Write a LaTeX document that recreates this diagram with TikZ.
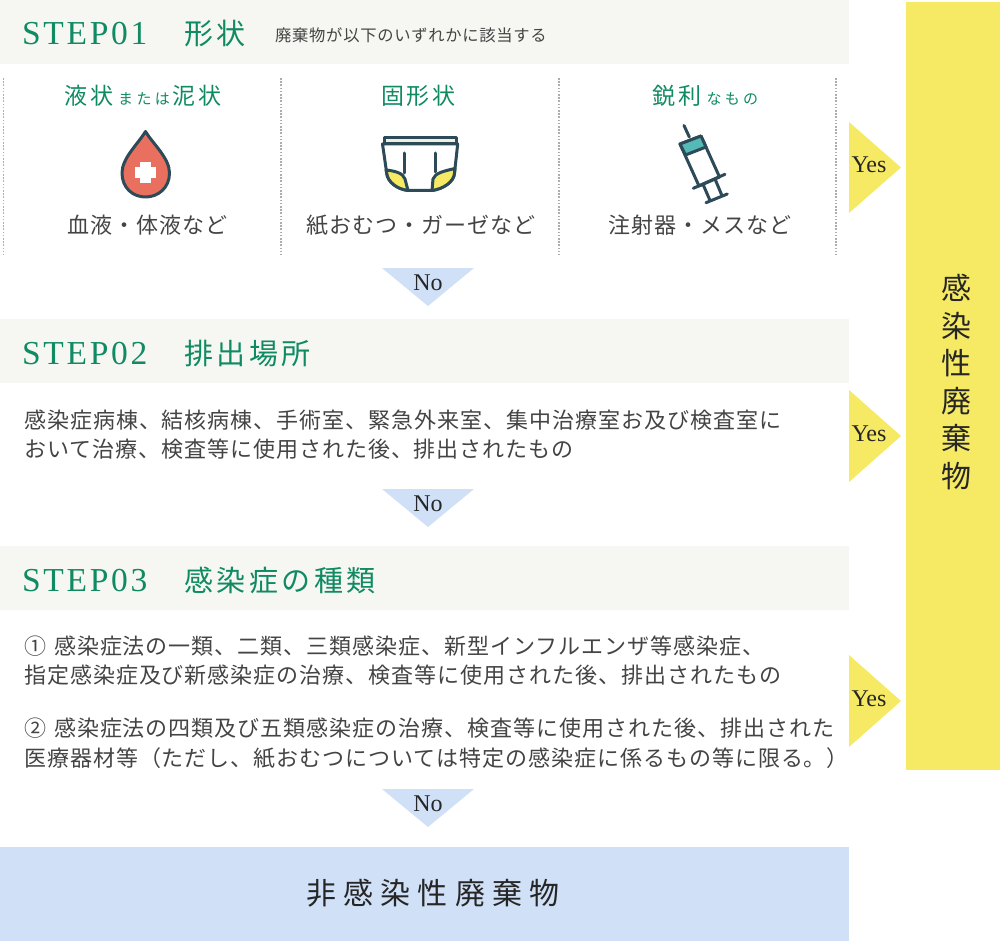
\documentclass[tikz,border=0pt]{standalone}
\usepackage{fontspec}
\setmainfont{Liberation Serif}
\newfontfamily\jpa[LetterSpace=4.4]{Noto Sans CJK JP}
\newfontfamily\jph[LetterSpace=12]{Noto Sans CJK JP}
\newfontfamily\jpk[LetterSpace=22]{Noto Sans CJK JP}
\newfontfamily\latinh[LetterSpace=8]{Liberation Serif}
\definecolor{stepbg}{HTML}{F6F7F3}
\definecolor{bluebg}{HTML}{CFE0F7}
\definecolor{yel}{HTML}{F6EA64}
\definecolor{grn}{HTML}{0F8A62}
\definecolor{txt}{HTML}{444444}
\definecolor{ink}{HTML}{2C4A57}
\definecolor{dropred}{HTML}{E96F5E}
\definecolor{teal}{HTML}{55B9B5}
\definecolor{beltc}{HTML}{F1EFDF}
\tikzset{
 x=1pt,y=-1pt,
 lab/.style={inner sep=0,anchor=base west},
 body/.style={lab,text=txt,font=\fontsize{22}{22}\jpa,yshift=-8.4pt},
 note/.style={lab,text=txt,font=\fontsize{16.3}{16.3}\jpa,yshift=-6.2pt},
 steptitle/.style={lab,text=grn,font=\fontsize{33.5}{33.5}\latinh,yshift=-11pt},
 stepjp/.style={lab,text=grn,font=\fontsize{29}{29}\jph,yshift=-11pt},
 sub/.style={inner sep=0,anchor=base,text=grn,yshift=-8.8pt},
 item/.style={inner sep=0,anchor=base,text=txt,font=\fontsize{22}{22}\jpa,yshift=-8.4pt},
 yesno/.style={inner sep=0,anchor=center,font=\fontsize{24}{24}\selectfont,text=black!85},
 sep/.style={draw=black!32,line width=1.6pt,dash pattern=on 1.6pt off 1.6pt},
 icon/.style={draw=ink,line width=3pt,line join=round,line cap=round},
}
\newcommand{\bigk}[1]{{\fontsize{23}{23}\jph #1}}
\newcommand{\smk}[1]{\hspace{5pt}{\fontsize{15}{15}\jpk #1}\hspace{3pt}}
\begin{document}
\begin{tikzpicture}
\useasboundingbox (0,0) rectangle (1000,941);
% bands
\fill[stepbg] (0,0) rectangle (849,64);
\fill[stepbg] (0,319) rectangle (849,383);
\fill[stepbg] (0,546) rectangle (849,610);
\fill[bluebg] (0,847) rectangle (849,941);
\fill[yel] (906,2) rectangle (1000,770);
% triangles
\fill[yel] (849,122) -- (901,167.5) -- (849,213) -- cycle;
\fill[yel] (849,390) -- (901,436) -- (849,482) -- cycle;
\fill[yel] (849,655) -- (901,701) -- (849,747) -- cycle;
\fill[bluebg] (382,268) -- (474,268) -- (428,306) -- cycle;
\fill[bluebg] (382,489) -- (474,489) -- (428,527) -- cycle;
\fill[bluebg] (382,789) -- (474,789) -- (428,827) -- cycle;
% separators
\draw[sep] (3.5,78) -- (3.5,254.5);
\draw[sep] (281,78) -- (281,254.5);
\draw[sep] (559,78) -- (559,254.5);
\draw[sep] (836,78) -- (836,254.5);
% headings
\node[steptitle] (s1) at (22,34) {STEP01};
\node[stepjp] (s1j) at (184,34) {形状};
\node[note] (s1n) at (275,35) {廃棄物が以下のいずれかに該当する};
\node[steptitle] (s2) at (22,353) {STEP02};
\node[stepjp] (s2j) at (184,353) {排出場所};
\node[steptitle] (s3) at (22,580) {STEP03};
\node[stepjp] (s3j) at (184,580) {感染症の種類};
% sub heads
\node[sub] (h1) at (143,96) {\bigk{液状}\smk{または}\bigk{泥状}};
\node[sub] (h2) at (418.5,96) {\bigk{固形状}};
\node[sub] (h3) at (705.5,96) {\bigk{鋭利}\smk{なもの}};
% items
\node[item] (i1) at (147.5,225) {血液・体液など};
\node[item] (i2) at (421,225) {紙おむつ・ガーゼなど};
\node[item] (i3) at (700,225) {注射器・メスなど};
% drop icon
\draw[icon,fill=dropred] (145.5,131.5) .. controls (138,144) and (122,158) .. (122,173)
  .. controls (122,188) and (133,197) .. (145.5,197)
  .. controls (158,197) and (169.5,188) .. (169.5,173)
  .. controls (169.5,158) and (153,144) .. (145.5,131.5) -- cycle;
\fill[white] (140,162) rectangle (151,183);
\fill[white] (135,167) rectangle (156,178);
% diaper icon
\draw[icon,fill=white] (382.5,144) -- (386.7,173) .. controls (387.5,182) and (397,189) .. (408,190.5)
  -- (432,190.5) .. controls (443,189) and (454,182) .. (454.5,173) -- (457.7,144) -- cycle;
\draw[icon,fill=beltc] (384.5,137.5) -- (456,137.5) -- (456,144) -- (384.5,144) -- cycle;
\draw[icon,fill=yel] (386,170) .. controls (395,171) and (403,173) .. (405,179)
  -- (408,190.5) .. controls (397,189) and (387.5,182) .. (386.7,173) -- cycle;
\draw[icon,fill=yel] (455,168.5) .. controls (444,171) and (435,173) .. (433,179)
  -- (432,190.5) .. controls (443,189) and (454,182) .. (454.5,173) -- cycle;
\draw[icon] (404,153) -- (404,173);
\draw[icon] (435.7,153) -- (435.7,172);
% syringe icon
\draw[icon] (684,125.5) -- (689.3,137);
\draw[icon,fill=white] (680,144) -- (701,136) -- (719.5,177) -- (699,186) -- cycle;
\draw[icon,fill=teal] (680,144) -- (701,136) -- (706,147) -- (685.5,155) -- cycle;
\draw[icon] (693.3,188.3) -- (725,174.3);
\draw[icon] (703.3,185) -- (710,200.5);
\draw[icon] (715,179) -- (721.7,195);
\draw[icon] (706,202.7) -- (727.3,194);
% body text
\node[body] (b1) at (24,420) {感染症病棟、結核病棟、手術室、緊急外来室、集中治療室お及び検査室に};
\node[body] (b2) at (24,449) {おいて治療、検査等に使用された後、排出されたもの};
\node[body] (c1) at (24,646) {①\hspace{2pt} 感染症法の一類、二類、三類感染症、新型インフルエンザ等感染症、};
\node[body] (c2) at (24,675) {指定感染症及び新感染症の治療、検査等に使用された後、排出されたもの};
\node[body] (c3) at (24,728) {②\hspace{2pt} 感染症法の四類及び五類感染症の治療、検査等に使用された後、排出された};
\node[body] (c4) at (24,758) {医療器材等（ただし、紙おむつについては特定の感染症に係るもの等に限る。）};
% yes / no
\node[yesno] (y1) at (869,165) {Yes};
\node[yesno] (y2) at (869,434) {Yes};
\node[yesno] (y3) at (869,699) {Yes};
\node[yesno] (n1) at (428,283) {No};
\node[yesno] (n2) at (428,504) {No};
\node[yesno] (n3) at (428,804) {No};
% outcomes
\node[inner sep=0,align=center,text=black!85,font=\fontsize{30}{37.6}\selectfont\jpa] (yes) at (956,382) {感\\染\\性\\廃\\棄\\物};
\node[inner sep=0,text=black!85,font=\fontsize{30}{30}\jph\addfontfeature{LetterSpace=23.5}] (nonin) at (433,893) {非感染性廃棄物};
\end{tikzpicture}
\end{document}
